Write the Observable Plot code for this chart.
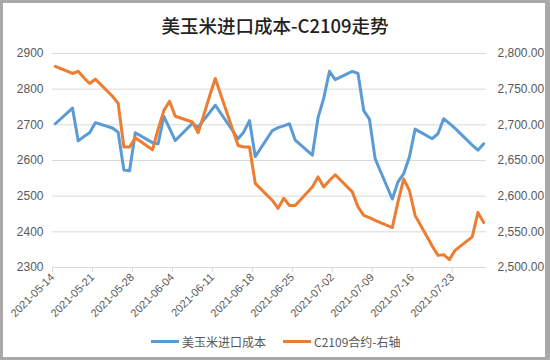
<!DOCTYPE html>
<html>
<head>
<meta charset="utf-8">
<script src="https://cdn.jsdelivr.net/npm/d3@7"></script>
<script src="https://cdn.jsdelivr.net/npm/@observablehq/plot@0.6"></script>
<style>
  html, body { margin: 0; padding: 0; background: #fff; }
  #frame { position: relative; width: 550px; height: 360px; overflow: hidden; background: #fff;
           font-family: "Liberation Sans", "Noto Sans CJK SC", sans-serif; }
  #border { position: absolute; left: 0; top: 0; width: 550px; height: 360px; box-sizing: border-box;
            border-style: solid; border-color: #a9a9a9; border-width: 3px 5px 3px 3px; pointer-events: none; }
  #title { position: absolute; left: 0; top: 0; width: 550px; height: 40px; line-height: 50px; text-align: center;
           font-size: 18.5px; color: #222; font-family: "Noto Sans CJK SC", sans-serif; font-weight: 500; }
  #chart { position: absolute; left: 0; top: 40px; }
  #legend { position: absolute; left: 151px; top: 332px; height: 18px; display: flex; align-items: center;
            font-size: 12px; color: #595959; font-family: "Noto Sans CJK SC", sans-serif; }
  .sw { display: inline-block; width: 28px; height: 3px; margin-right: 3px; }
  .item { display: flex; align-items: center; }
</style>
</head>
<body>
<div id="frame">
  <div id="title">美玉米进口成本-C2109走势</div>
  <div id="chart"></div>
  <div id="legend"></div>
  <div id="border"></div>
</div>
<script>
// ---- data ----
const dates = [
  "2021-05-14","2021-05-17","2021-05-18","2021-05-19","2021-05-20","2021-05-21",
  "2021-05-24","2021-05-25","2021-05-26","2021-05-27","2021-05-28",
  "2021-05-31","2021-06-01","2021-06-02","2021-06-03","2021-06-04",
  "2021-06-07","2021-06-08","2021-06-09","2021-06-10","2021-06-11",
  "2021-06-15","2021-06-16","2021-06-17","2021-06-18",
  "2021-06-21","2021-06-22","2021-06-23","2021-06-24","2021-06-25",
  "2021-06-28","2021-06-29","2021-06-30","2021-07-01","2021-07-02",
  "2021-07-05","2021-07-06","2021-07-07","2021-07-08","2021-07-09",
  "2021-07-12","2021-07-13","2021-07-14","2021-07-15","2021-07-16",
  "2021-07-19","2021-07-20","2021-07-21","2021-07-22","2021-07-23",
  "2021-07-26","2021-07-27","2021-07-28"
];
// 美玉米进口成本 (left axis)
const importCost = [
  2703,2747,2655,2667,2678,2706,
  2691,2679,2573,2571,2678,
  2650,2647,2724,2690,2656,
  2704,2693,2714,2734,2755,
  2661,2680,2712,2611,
  2684,2692,2697,2703,2657,
  2615,2720,2775,2850,2827,
  2850,2844,2740,2716,2605,
  2492,2540,2563,2610,2688,
  2661,2675,2717,2704,2690,
  2643,2629,2647
];
// C2109合约 (right axis)
const c2109 = [
  2782,2772,2775,2766,2758,2764,
  2740,2730,2669,2669,2682,
  2665,2694,2720,2733,2712,
  2704,2689,2714,2740,2765,
  2671,2669,2669,2618,
  2594,2583,2597,2587,2587,
  2613,2627,2613,2622,2630,
  2606,2585,2573,2570,2566,
  2556,2592,2624,2608,2573,
  2530,2517,2518,2511,2524,
  2543,2577,2563
];
const seriesNames = ["美玉米进口成本", "C2109合约-右轴"];
const seriesColors = ["#5B9BD5", "#ED7D31"];
const leftTicks = [2300, 2400, 2500, 2600, 2700, 2800, 2900];
const rightTicks = [2500, 2550, 2600, 2650, 2700, 2750, 2800];
const tickLabels = ["2021-05-14","2021-05-21","2021-05-28","2021-06-04","2021-06-11","2021-06-18",
                    "2021-06-25","2021-07-02","2021-07-09","2021-07-16","2021-07-23"];
const xStart = "2021-05-14", xEnd = "2021-07-29";

// ---- build ----
const parse = s => new Date(s + "T00:00:00Z");
const half = 12 * 3600 * 1000;
const L0 = leftTicks[0], L1 = leftTicks[leftTicks.length-1];
const R0 = rightTicks[0], R1 = rightTicks[rightTicks.length-1];
const rightToLeft = v => L0 + (v - R0) * (L1 - L0) / (R1 - R0);
const leftToRight = v => R0 + (v - L0) * (R1 - R0) / (L1 - L0);

const rows = dates.map((d, i) => ({date: new Date(parse(d).getTime() + half), value: importCost[i]}));
const rows2 = dates.map((d, i) => ({date: new Date(parse(d).getTime() + half), value: rightToLeft(c2109[i])}));
const xTicks = tickLabels.map(parse);
const fmtR = d3.format(",.2f");
const fmtD = d3.utcFormat("%Y-%m-%d");

const chart = Plot.plot({
  width: 550,
  height: 290,
  marginLeft: 52,
  marginRight: 64,
  marginTop: 13,
  marginBottom: 63,
  style: {fontFamily: '"Liberation Sans", "Noto Sans CJK SC", sans-serif', fontSize: "12px", background: "transparent"},
  x: {type: "utc", domain: [parse(xStart), parse(xEnd)], label: null},
  y: {domain: [L0, L1], label: null},
  marks: [
    Plot.gridY(leftTicks.slice(1), {stroke: "#d9d9d9", strokeOpacity: 1, strokeWidth: 1}),
    Plot.ruleY([L0], {stroke: "#d9d9d9", strokeWidth: 1}),
    Plot.axisY(leftTicks, {anchor: "left", label: null, tickSize: 0, tickPadding: 9, color: "#595959", fontSize: 12,
                           tickFormat: d => String(d)}),
    Plot.axisY(leftTicks, {anchor: "right", label: null, tickSize: 0, tickPadding: 11, color: "#595959", fontSize: 12,
                           tickFormat: d => fmtR(leftToRight(d))}),
    Plot.axisX(xTicks, {anchor: "bottom", label: null, tickSize: 5, color: "#d9d9d9", tickFormat: () => ""}),
    Plot.axisX(xTicks, {anchor: "bottom", label: null, tickSize: 0, tickPadding: 8, tickRotate: -45, color: "#595959",
                        fontSize: 11, tickFormat: fmtD}),
    Plot.line(rows, {x: "date", y: "value", stroke: seriesColors[0], strokeWidth: 3, strokeLinejoin: "round", strokeLinecap: "round"}),
    Plot.line(rows2, {x: "date", y: "value", stroke: seriesColors[1], strokeWidth: 3, strokeLinejoin: "round", strokeLinecap: "round"})
  ]
});
document.getElementById("chart").appendChild(chart);

const legend = document.getElementById("legend");
seriesNames.forEach((n, i) => {
  const it = document.createElement("div");
  it.className = "item";
  if (i > 0) it.style.marginLeft = "17px";
  const sw = document.createElement("span");
  sw.className = "sw";
  sw.style.background = seriesColors[i];
  const tx = document.createElement("span");
  tx.textContent = n;
  it.appendChild(sw); it.appendChild(tx);
  legend.appendChild(it);
});
</script>
</body>
</html>
